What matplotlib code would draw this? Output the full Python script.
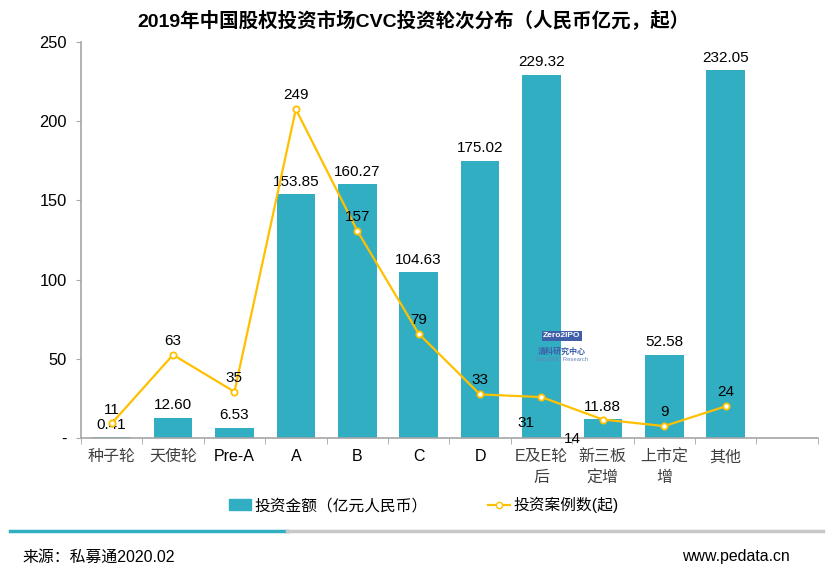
import numpy as np
import matplotlib.pyplot as plt
from matplotlib.lines import Line2D
from matplotlib.patches import Rectangle

plt.rcParams['font.family'] = ['Liberation Sans', 'Noto Sans CJK SC', 'DejaVu Sans']

CATEGORIES = ['种子轮', '天使轮', 'Pre-A', 'A', 'B', 'C', 'D',
              'E及E轮\n后', '新三板\n定增', '上市定\n增', '其他']
AMOUNT = [0.41, 12.60, 6.53, 153.85, 160.27, 104.63, 175.02, 229.32, 11.88, 52.58, 232.05]
CASES = [11, 63, 35, 249, 157, 79, 33, 31, 14, 9, 24]
YTICKS = [0, 50, 100, 150, 200, 250]
YTICK_LABELS = ['-', '50', '100', '150', '200', '250']

TEAL = '#31AEC1'
GOLD = '#FFC000'
GRAY = '#A6A6A6'

fig = plt.figure(figsize=(8.26, 5.85), dpi=100)
ax = fig.add_axes([0.098, 0.2513, 0.892, 0.677])
ax2 = ax.twinx()

x = np.arange(len(CATEGORIES))
bars = ax.bar(x, AMOUNT, width=0.63, color=TEAL, zorder=2)
ax.set_xlim(-0.5, len(CATEGORIES) + 0.5)
ax.set_ylim(0, 250)
ax.set_yticks(YTICKS)
ax.set_yticklabels(YTICK_LABELS, fontsize=11.8)
ax.tick_params(axis='y', length=3.5, color=GRAY, pad=6.5)
ax.set_xticks(np.arange(len(CATEGORIES) + 2) - 0.5, minor=True)
ax.set_xticks(x)
ax.set_xticklabels(CATEGORIES, fontsize=11.5, linespacing=1.5)
for lab in ax.get_xticklabels():
    if any(ord(c) > 127 for c in lab.get_text()):
        lab.set_color('#404040')
ax.tick_params(axis='x', which='major', length=0, pad=8)
ax.tick_params(axis='x', which='minor', length=4, color=GRAY, direction='out')
for s in ['top', 'right']:
    ax.spines[s].set_visible(False)
for s in ['left', 'bottom']:
    ax.spines[s].set_color(GRAY)
    ax.spines[s].set_linewidth(1.2)

for xi, v in zip(x, AMOUNT):
    ax.annotate(f'{v:.2f}', (xi, v), xytext=(0, 4), textcoords='offset points',
                ha='center', va='bottom', fontsize=11, zorder=5)

ax2.plot(x, CASES, color=GOLD, lw=1.6, marker='o', ms=4.5,
         mfc='white', mec=GOLD, mew=1.3, zorder=4)
ax2.set_ylim(0, 300)
ax2.axis('off')
offsets = {7: (-11.5, -19), 8: (-22, -14)}
for i, (xi, v) in enumerate(zip(x, CASES)):
    dx, dy = offsets.get(i, (0, 5))
    va = 'center' if i in offsets else 'bottom'
    ax2.annotate(str(v), (xi, v), xytext=(dx, dy), textcoords='offset points',
                 ha='center', va=va, fontsize=11, zorder=5)

fig.text(0.5, 0.965, '2019年中国股权投资市场CVC投资轮次分布（人民币亿元，起）',
         ha='center', va='center', fontsize=14, fontweight='bold')

# watermark
fig.text(0.68, 0.426, 'Zero2IPO', fontsize=6, color='white', ha='center', va='center',
         fontweight='bold', bbox=dict(boxstyle='square,pad=0.15', fc='#3F5FA8', ec='none'))
fig.text(0.68, 0.398, '清科研究中心', fontsize=5.8, color='#3F5FA8', ha='center', va='center',
         fontweight='bold')
fig.text(0.68, 0.385, 'Zero2IPO Research', fontsize=4.2, color='#6A82BA', ha='center', va='center')

handles = [Rectangle((0, 0), 1, 1, color=TEAL),
           Line2D([], [], color=GOLD, lw=1.6, marker='o', ms=4.5, mfc='white', mec=GOLD)]
fig.legend(handles, ['投资金额（亿元人民币）', '投资案例数(起)'], loc='center',
           bbox_to_anchor=(0.513, 0.137), ncol=2, frameon=False, fontsize=11.3,
           columnspacing=3.8, handlelength=1.4, handletextpad=0.25)

fig.add_artist(Line2D([10 / 826, 287 / 826], [1 - 530.5 / 585] * 2, color=TEAL, lw=2.5))
fig.add_artist(Line2D([287 / 826, 823 / 826], [1 - 530.5 / 585] * 2, color='#C8C8C8', lw=2.5))

fig.text(22 / 826, 1 - 557 / 585, '来源：私募通2020.02', fontsize=11.4, va='center', ha='left')
fig.text(790 / 826, 1 - 557 / 585, 'www.pedata.cn', fontsize=11.4, va='center', ha='right')

fig.savefig('out.png', dpi=100)
